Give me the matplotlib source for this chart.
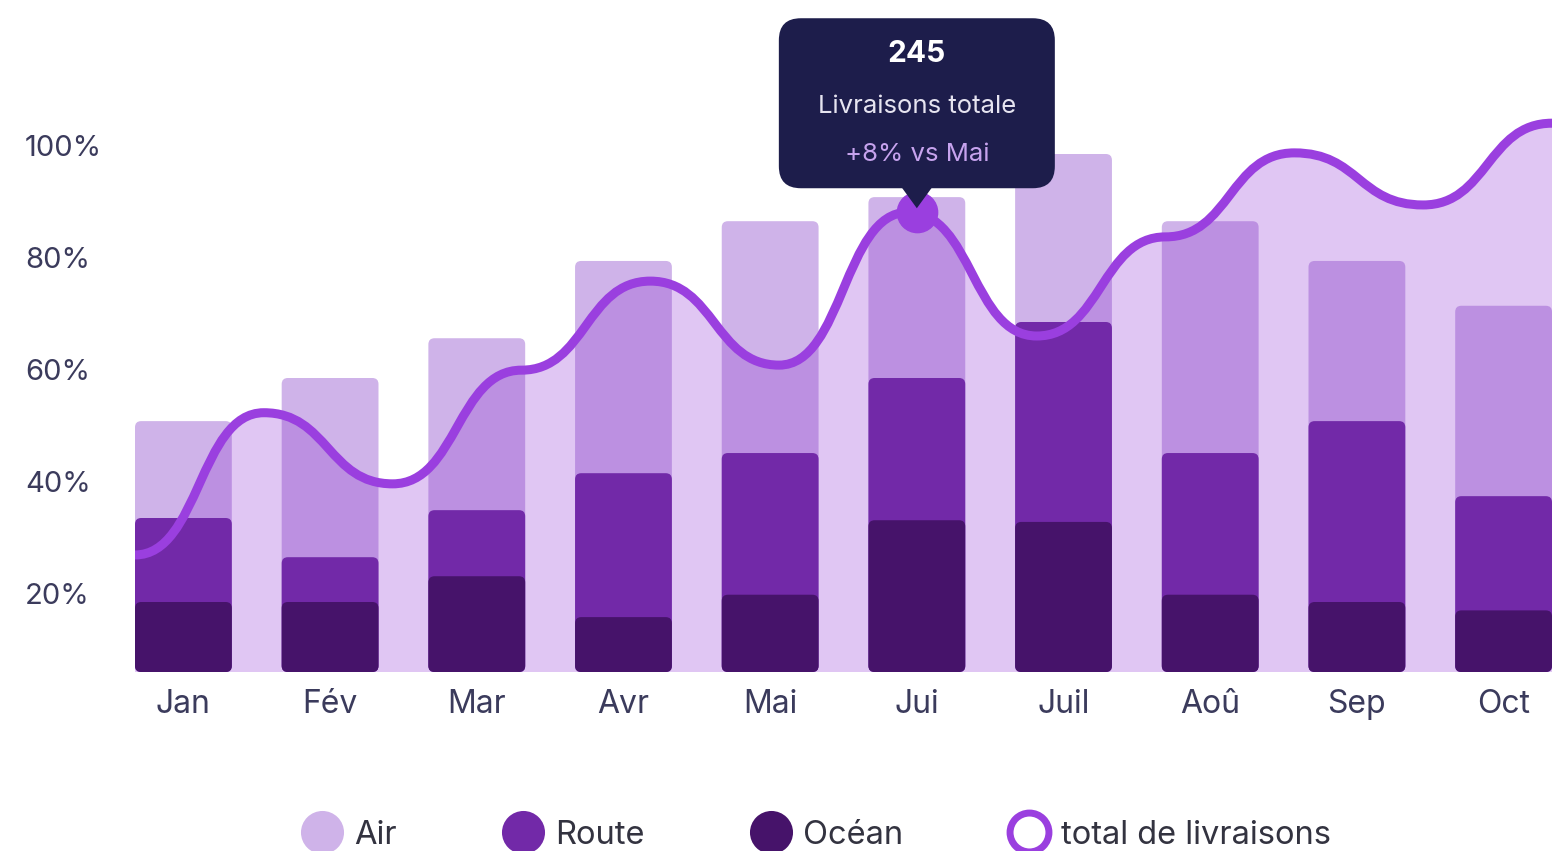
import matplotlib.pyplot as plt
import matplotlib.transforms as mtransforms
import numpy as np
from matplotlib.lines import Line2D
from matplotlib.patches import FancyBboxPatch, PathPatch, Polygon
from matplotlib.path import Path
from matplotlib.colors import to_rgba

# monthly shares (%) per transport mode
months = ["Jan", "Fév", "Mar", "Avr", "Mai", "Jui", "Juil", "Aoû", "Sep", "Oct"]
ocean = [12.5, 12.5, 17.1, 9.8, 13.8, 27.1, 26.8, 13.8, 12.5, 11.0]
route = [15.0, 8.0, 11.8, 25.7, 25.3, 25.4, 35.7, 25.3, 32.3, 20.4]
air = [17.3, 32.0, 30.7, 37.9, 41.4, 32.3, 30.0, 41.4, 28.6, 34.0]

# total deliveries curve (%)
total_line = [20.9, 46.3, 33.6, 53.9, 69.8, 54.8, 82.1, 60.0, 77.7, 92.7, 83.4, 98.0]
y_ticks = [20, 40, 60, 80, 100]

# hovered month and its curve point
tip_month = "Jui"
highlight = 6
tip_value = "245"
tip_title = "Livraisons totale"
tip_delta = "+8% vs Mai"

legend_labels = ["Air", "Route", "Océan", "total de livraisons"]

AREA = "#E0C6F3"
AIR = to_rgba("#8741C8", 0.4)
ROUTE = "#7229A8"
OCEAN = "#46136A"
LINE = "#9A3FDF"
TIP_BG = "#1D1D4B"
TIP_SUB = "#C7A3EE"
TEXT = "#3B3B5C"

plt.rcParams["font.family"] = ["Inter", "DejaVu Sans"]

W, H = 1552, 851
fig = plt.figure(figsize=(W / 100, H / 100), dpi=100)
ax = fig.add_axes([135 / W, (H - 672) / H, 1 - 135 / W, 672 / H])

bar_w = 0.66
x = np.arange(len(months))
ax.set_xlim(-bar_w / 2, len(months) - 1 + bar_w / 2)
ax.set_ylim(0, 120)

# pixel size of one data unit, used to keep corner rounding circular
p0 = ax.transData.transform((0, 0))
p1 = ax.transData.transform((1, 1))
aspect = (p1[0] - p0[0]) / (p1[1] - p0[1])


def round_bars(container, radius=0.042):
    for rect in container:
        patch = FancyBboxPatch(rect.get_xy(), rect.get_width(), rect.get_height(),
                               boxstyle=f"round,pad=0,rounding_size={radius}",
                               mutation_aspect=aspect, facecolor=rect.get_facecolor(),
                               edgecolor="none", zorder=rect.get_zorder())
        ax.add_patch(patch)
        rect.remove()


ocean_a = np.array(ocean)
route_top = ocean_a + np.array(route)
air_top = route_top + np.array(air)

round_bars(ax.bar(x, air_top, bar_w, color=AIR, zorder=2))
round_bars(ax.bar(x, route_top, bar_w, color=ROUTE, zorder=3))
round_bars(ax.bar(x, ocean_a, bar_w, color=OCEAN, zorder=4))

# smooth "bump" curve: flat tangent at every point
lx = np.linspace(-bar_w / 2, len(months) - 1 + bar_w / 2, len(total_line))
ly = total_line
verts = [(lx[0], ly[0])]
codes = [Path.MOVETO]
for i in range(len(lx) - 1):
    xm = (lx[i] + lx[i + 1]) / 2
    verts += [(xm, ly[i]), (xm, ly[i + 1]), (lx[i + 1], ly[i + 1])]
    codes += [Path.CURVE4] * 3

area_verts = verts + [(lx[-1], 0), (lx[0], 0), (lx[0], ly[0])]
area_codes = codes + [Path.LINETO, Path.LINETO, Path.CLOSEPOLY]
ax.add_patch(PathPatch(Path(area_verts, area_codes), facecolor=AREA, edgecolor="none", zorder=1))
ax.add_patch(PathPatch(Path(verts, codes), facecolor="none", edgecolor=LINE, lw=6.5,
                       capstyle="round", zorder=5))

tx = months.index(tip_month)
ty = ly[highlight]
ax.plot(tx, ty, "o", ms=29, color=LINE, zorder=6)

# tooltip, laid out in inches around the hovered point
tip = fig.dpi_scale_trans + mtransforms.ScaledTranslation(tx, ty, ax.transData)
ax.add_patch(FancyBboxPatch((-1.38, 0.24), 2.76, 1.70, boxstyle="round,pad=0,rounding_size=0.22",
                            facecolor=TIP_BG, edgecolor="none", transform=tip, zorder=7, clip_on=False))
ax.add_patch(Polygon([(-0.16, 0.26), (0.16, 0.26), (0, 0.04)], closed=True, facecolor=TIP_BG,
                     edgecolor="none", transform=tip, zorder=7, clip_on=False))
ax.text(0, 1.58, tip_value, transform=tip, ha="center", va="center", color="white",
        fontsize=21.5, fontweight="bold", zorder=8)
ax.text(0, 1.06, tip_title, transform=tip, ha="center", va="center", color="#E6E4F0",
        fontsize=18.5, zorder=8)
ax.text(0, 0.58, tip_delta, transform=tip, ha="center", va="center", color=TIP_SUB,
        fontsize=18.5, zorder=8)

# axes decoration
for s in ax.spines.values():
    s.set_visible(False)
ax.set_yticks([])
ax.set_xticks(x, months)
ax.tick_params(axis="x", length=0, pad=12, labelsize=23, labelcolor=TEXT)

ylab = mtransforms.blended_transform_factory(fig.transFigure, ax.transData) + \
    mtransforms.ScaledTranslation(0, -0.36, fig.dpi_scale_trans)
for t in y_ticks:
    ax.text(25 / W, t, f"{t}%", transform=ylab, ha="left", va="center",
            fontsize=21, color=TEXT, clip_on=False)

handles = [
    Line2D([], [], ls="", marker="o", ms=31, mfc=AIR, mec="none"),
    Line2D([], [], ls="", marker="o", ms=31, mfc=ROUTE, mec="none"),
    Line2D([], [], ls="", marker="o", ms=31, mfc=OCEAN, mec="none"),
    Line2D([], [], ls="", marker="o", ms=28, mfc="white", mec=LINE, mew=5),
]
fig.legend(handles, legend_labels, loc="center", bbox_to_anchor=(0.5255, (H - 835) / H),
           ncol=4, frameon=False, fontsize=23.5, handlelength=1.35, handletextpad=0.3,
           columnspacing=3.2, labelcolor="#333340")

fig.savefig("out.png", dpi=100)
